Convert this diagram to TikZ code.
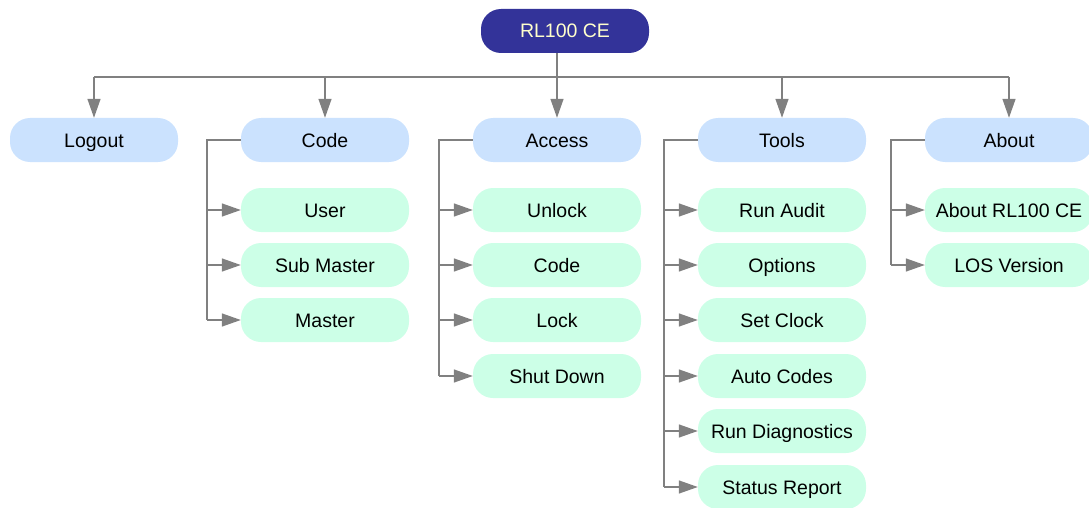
\documentclass[tikz,border=0pt]{standalone}
\usepackage{fontspec}
\setmainfont{Liberation Sans}
\usetikzlibrary{arrows.meta}
\definecolor{rootblue}{RGB}{51,51,153}
\definecolor{rootfont}{RGB}{255,255,204}
\definecolor{menublue}{RGB}{203,226,254}
\definecolor{itemgreen}{RGB}{204,255,231}
\definecolor{linegray}{RGB}{128,128,128}
\tikzset{
  box/.style={rounded corners=20pt,minimum width=168pt,minimum height=44pt,inner sep=0pt,
    text height=14pt,text depth=0pt,font=\fontsize{19.5}{22}\selectfont},
  rootbox/.style={box,fill=rootblue,text=rootfont},
  menu/.style={box,fill=menublue},
  item/.style={box,fill=itemgreen},
  link/.style={draw=linegray,line width=1.4pt},
  arr/.style={link,-{Triangle[length=19pt,width=13pt]}}
}
\begin{document}
\begin{tikzpicture}[x=1pt,y=-1pt]
\useasboundingbox (0,0) rectangle (1089,508);
\node[rootbox] (root) at (565,31) {RL100 CE};
\node[menu] (logout) at (94,140) {Logout};
\node[menu] (code) at (325,140) {Code};
\node[menu] (access) at (557,140) {Access};
\node[menu] (tools) at (782,140) {Tools};
\node[menu] (about) at (1009,140) {About};
% code menu
\node[item] (user) at (325,210) {User};
\node[item] (submaster) at (325,265) {Sub Master};
\node[item] (master) at (325,320) {Master};
% access menu
\node[item] (unlock) at (557,210) {Unlock};
\node[item] (acode) at (557,265) {Code};
\node[item] (lock) at (557,320) {Lock};
\node[item] (shutdown) at (557,376) {Shut Down};
% tools menu
\node[item] (audit) at (782,210) {Run Audit};
\node[item] (options) at (782,265) {Options};
\node[item] (clock) at (782,320) {Set Clock};
\node[item] (autocodes) at (782,376) {Auto Codes};
\node[item] (diag) at (782,431) {Run Diagnostics};
\node[item] (status) at (782,487) {Status Report};
% about menu
\node[item] (aboutrl) at (1009,210) {About RL100 CE};
\node[item] (los) at (1009,265) {LOS Version};
% top level links
\coordinate (bus) at (0,77);
\draw[link] (access |- root.south) -- (access |- bus);
\draw[link] (logout |- bus) -- (about |- bus);
\foreach \m in {logout,code,access,tools,about}
  \draw[arr] (\m |- bus) -- (\m.north);
% sub menu links
\draw[link] (code.west) -- ++(-34,0) coordinate (cb) -- (cb |- master.west);
\foreach \c in {user,submaster,master}
  \draw[arr] (cb |- \c.west) -- (\c.west);
\draw[link] (access.west) -- ++(-34,0) coordinate (ab) -- (ab |- shutdown.west);
\foreach \c in {unlock,acode,lock,shutdown}
  \draw[arr] (ab |- \c.west) -- (\c.west);
\draw[link] (tools.west) -- ++(-34,0) coordinate (tb) -- (tb |- status.west);
\foreach \c in {audit,options,clock,autocodes,diag,status}
  \draw[arr] (tb |- \c.west) -- (\c.west);
\draw[link] (about.west) -- ++(-34,0) coordinate (bb) -- (bb |- los.west);
\foreach \c in {aboutrl,los}
  \draw[arr] (bb |- \c.west) -- (\c.west);
\end{tikzpicture}
\end{document}
